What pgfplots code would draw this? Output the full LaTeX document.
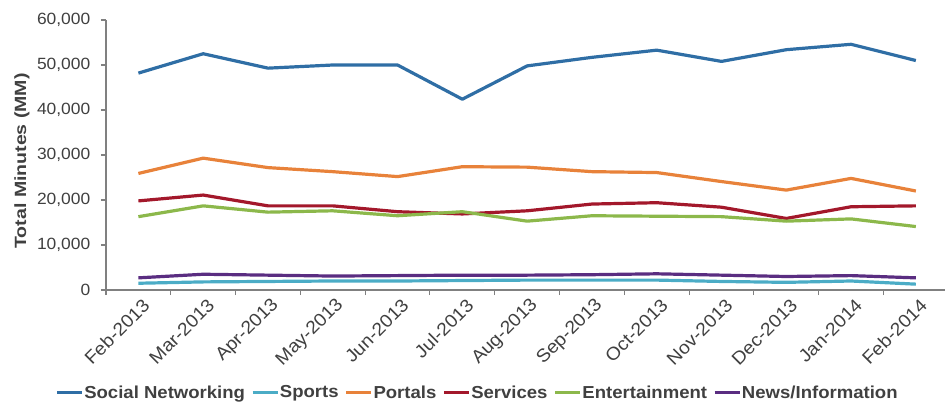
\documentclass[border=0pt]{standalone}
\usepackage{fontspec}
\setmainfont{Liberation Sans}[FakeStretch=1.07]
\newfontfamily\ylabfont{Liberation Sans}[FakeStretch=1.2]
\usepackage{graphicx}
\usepackage{pgfplots}
\pgfplotsset{compat=1.18}
\definecolor{cSN}{HTML}{2F6EA5}
\definecolor{cSP}{HTML}{4BACC6}
\definecolor{cPO}{HTML}{E8823A}
\definecolor{cSE}{HTML}{A3182B}
\definecolor{cEN}{HTML}{8CB84B}
\definecolor{cNI}{HTML}{5A2D81}
\definecolor{txt}{HTML}{404040}
\begin{document}
\begin{tikzpicture}
\path[use as bounding box] (-79.5pt,-84.75pt) rectangle (629.25pt,217.5pt);
\begin{axis}[
  scale only axis, width=629.25pt, height=202.5pt,
  xmin=-0.5, xmax=12.45, ymin=0, ymax=60000,
  axis lines*=left,
  axis line style={black!50, line width=0.8pt},
  tick align=outside,
  xtick={0,...,12},
  xticklabels={Feb-2013,Mar-2013,Apr-2013,May-2013,Jun-2013,Jul-2013,Aug-2013,Sep-2013,Oct-2013,Nov-2013,Dec-2013,Jan-2014,Feb-2014},
  major x tick style={draw=none},
  minor xtick={-0.5,0.5,1.5,2.5,3.5,4.5,5.5,6.5,7.5,8.5,9.5,10.5,11.5},
  minor x tick style={black!50, line width=0.8pt},
  minor tick length=3.75pt,
  ytick={0,10000,20000,30000,40000,50000,60000},
  major y tick style={black!50, line width=0.8pt},
  major tick length=3.75pt,
  scaled y ticks=false,
  /pgf/number format/assume math mode=true,
  yticklabel style={/pgf/number format/1000 sep={,}, xshift=-4.5pt},
  tick label style={font=\fontsize{12.2}{14}\selectfont, text=txt},
  xticklabel style={font=\fontsize{13.6}{16}\selectfont, rotate=45, anchor=east, inner sep=1pt, xshift=1.5pt, yshift=-8pt},
  ylabel={\ylabfont\bfseries Total Minutes (MM)},
  ylabel style={at={(axis description cs:-0.1001,0.478)}, anchor=center, font=\fontsize{12.2}{14}\selectfont, text=txt},
  legend columns=6,
  legend style={at={(axis description cs:0.442,-0.381)}, anchor=center, draw=none, fill=none,
    font=\fontsize{13}{15}\selectfont\bfseries, text=txt,
    nodes={inner xsep=0.5pt, inner ysep=1pt},
    /tikz/every odd column/.append style={column sep=0pt},
    /tikz/every even column/.append style={column sep=4pt}},
  legend image code/.code={\draw[#1] (0pt,0pt) -- (18.75pt,0pt);},
  every axis plot/.append style={line width=2.4pt, mark=none, line join=round},
]
\addplot[cSN] coordinates {(0,48200) (1,52500) (2,49300) (3,50000) (4,50000) (5,42400) (6,49800) (7,51700) (8,53300) (9,50800) (10,53400) (11,54600) (12,51000)};
\addlegendentry{Social Networking}
\addplot[cSP] coordinates {(0,1500) (1,1800) (2,1900) (3,2000) (4,2000) (5,2100) (6,2200) (7,2200) (8,2200) (9,1900) (10,1700) (11,2000) (12,1300)};
\addlegendentry{Sports}
\addplot[cPO] coordinates {(0,25900) (1,29300) (2,27200) (3,26300) (4,25200) (5,27400) (6,27300) (7,26300) (8,26100) (9,24100) (10,22200) (11,24800) (12,22000)};
\addlegendentry{Portals}
\addplot[cSE] coordinates {(0,19800) (1,21100) (2,18700) (3,18700) (4,17400) (5,16900) (6,17600) (7,19100) (8,19400) (9,18400) (10,15900) (11,18500) (12,18700)};
\addlegendentry{Services}
\addplot[cEN] coordinates {(0,16300) (1,18700) (2,17300) (3,17600) (4,16500) (5,17400) (6,15300) (7,16500) (8,16400) (9,16300) (10,15300) (11,15800) (12,14100)};
\addlegendentry{Entertainment}
\addplot[cNI] coordinates {(0,2700) (1,3500) (2,3300) (3,3100) (4,3200) (5,3300) (6,3300) (7,3400) (8,3600) (9,3300) (10,3000) (11,3200) (12,2700)};
\addlegendentry{News/Information}
\end{axis}
\end{tikzpicture}
\end{document}
